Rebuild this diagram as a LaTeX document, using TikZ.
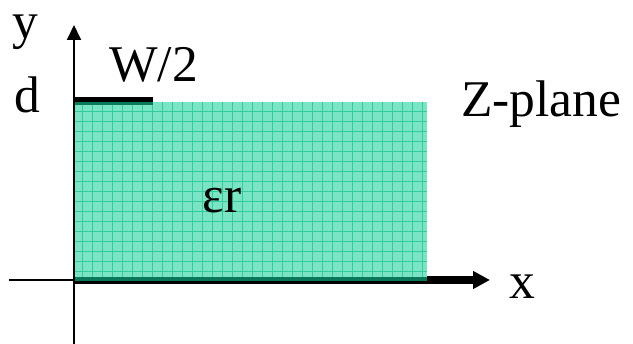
\documentclass[tikz,border=0pt]{standalone}
\usepackage{fontspec}
\setmainfont{Liberation Serif}
\usetikzlibrary{arrows.meta}
\definecolor{tealfill}{RGB}{122,228,196}
\definecolor{tealgrid}{RGB}{48,204,158}
\definecolor{tealdark}{RGB}{10,120,90}
\begin{document}
\begin{tikzpicture}[x=1pt,y=-1pt,
  lbl/.style={inner sep=0pt,anchor=base,font=\fontsize{51.5}{60}\selectfont},
  axis/.style={line width=2pt,black},
  conductor/.style={line width=7pt,black}]
\useasboundingbox (0,0) rectangle (633,344);
% coordinates
\coordinate (O) at (74,280.5);
\coordinate (ybot) at (74,344);
\coordinate (ytip) at (74,25);
\coordinate (xleft) at (9,280.5);
\coordinate (xtip) at (490,280);
\coordinate (gndA) at (73,280);
% ground conductor / x axis (thick part)
\draw[line width=8pt,-{Triangle[length=17pt,width=17pt]}] (gndA) -- (xtip);
% top conductor
\draw[conductor] (73,101) -- (153,101);
% dielectric region
\fill[tealfill] (73,102) rectangle (427,281);
\foreach \xx in {82,92,...,422} \draw[tealgrid,line width=1pt] (\xx,102) -- (\xx,281);
\foreach \yy in {112,122,...,272} \draw[tealgrid,line width=1pt] (73,\yy) -- (427,\yy);
\fill[tealdark] (73,102) rectangle (153,105.5);
\fill[tealdark] (73,277) rectangle (427,281);
% axes
\draw[axis] (xleft) -- (O);
\draw[axis,-{Triangle[length=15pt,width=14pt]}] (ybot) -- (ytip);
% labels
\node[lbl,text height=24pt] (ly) at (25,39) {y};
\node[lbl] (ld) at (27,113) {d};
\node[lbl,anchor=base west] (lw) at (109,82) {W/2};
\node[lbl,anchor=base west] (lz) at (461,117) {Z-plane};
\node[lbl] (lx) at (522,299) {x};
\node[lbl] (le) at (222,213) {εr};
\end{tikzpicture}
\end{document}
